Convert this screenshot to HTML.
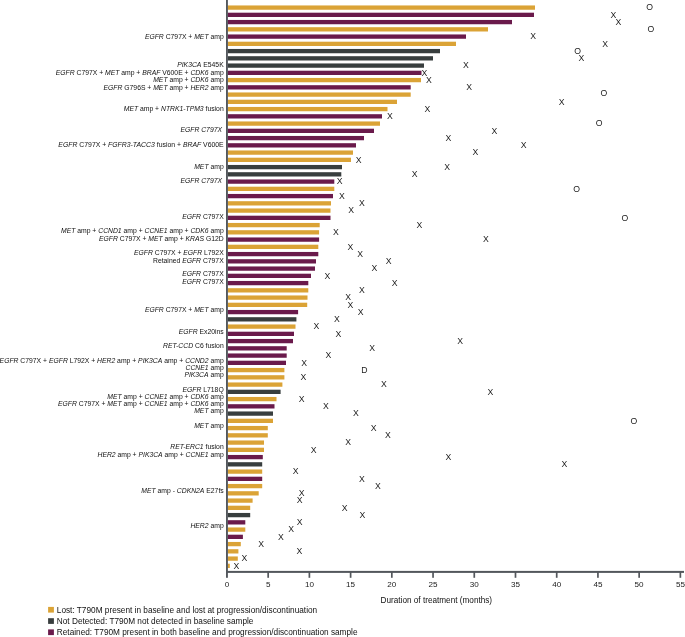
<!DOCTYPE html><html><head><meta charset="utf-8"><style>
html,body{margin:0;padding:0;background:#fff;width:685px;height:637px;overflow:hidden}
svg{display:block;will-change:transform}
text{font-family:"Liberation Sans",sans-serif}
</style></head><body>
<svg width="685" height="637" viewBox="0 0 685 637">
<rect x="227.6" y="5.45" width="307.4" height="4.3" fill="#DBA336"/>
<rect x="227.6" y="12.70" width="306.4" height="4.3" fill="#6A1A4B"/>
<rect x="227.6" y="19.95" width="284.4" height="4.3" fill="#6A1A4B"/>
<rect x="227.6" y="27.20" width="260.4" height="4.3" fill="#DBA336"/>
<rect x="227.6" y="34.45" width="238.4" height="4.3" fill="#6A1A4B"/>
<rect x="227.6" y="41.70" width="228.4" height="4.3" fill="#DBA336"/>
<rect x="227.6" y="48.95" width="212.4" height="4.3" fill="#383E3E"/>
<rect x="227.6" y="56.20" width="205.4" height="4.3" fill="#383E3E"/>
<rect x="227.6" y="63.45" width="196.4" height="4.3" fill="#383E3E"/>
<rect x="227.6" y="70.70" width="193.9" height="4.3" fill="#6A1A4B"/>
<rect x="227.6" y="77.95" width="193.4" height="4.3" fill="#DBA336"/>
<rect x="227.6" y="85.20" width="183.1" height="4.3" fill="#6A1A4B"/>
<rect x="227.6" y="92.45" width="183.1" height="4.3" fill="#DBA336"/>
<rect x="227.6" y="99.70" width="169.4" height="4.3" fill="#DBA336"/>
<rect x="227.6" y="106.95" width="159.9" height="4.3" fill="#DBA336"/>
<rect x="227.6" y="114.20" width="154.4" height="4.3" fill="#6A1A4B"/>
<rect x="227.6" y="121.45" width="152.4" height="4.3" fill="#DBA336"/>
<rect x="227.6" y="128.70" width="146.4" height="4.3" fill="#6A1A4B"/>
<rect x="227.6" y="135.95" width="136.4" height="4.3" fill="#6A1A4B"/>
<rect x="227.6" y="143.20" width="128.4" height="4.3" fill="#6A1A4B"/>
<rect x="227.6" y="150.45" width="125.4" height="4.3" fill="#DBA336"/>
<rect x="227.6" y="157.70" width="123.4" height="4.3" fill="#DBA336"/>
<rect x="227.6" y="164.95" width="114.4" height="4.3" fill="#383E3E"/>
<rect x="227.6" y="172.20" width="113.7" height="4.3" fill="#383E3E"/>
<rect x="227.6" y="179.45" width="106.7" height="4.3" fill="#6A1A4B"/>
<rect x="227.6" y="186.70" width="106.7" height="4.3" fill="#DBA336"/>
<rect x="227.6" y="193.95" width="105.4" height="4.3" fill="#6A1A4B"/>
<rect x="227.6" y="201.20" width="103.4" height="4.3" fill="#DBA336"/>
<rect x="227.6" y="208.45" width="102.9" height="4.3" fill="#DBA336"/>
<rect x="227.6" y="215.70" width="102.9" height="4.3" fill="#6A1A4B"/>
<rect x="227.6" y="222.95" width="92.1" height="4.3" fill="#DBA336"/>
<rect x="227.6" y="230.20" width="91.5" height="4.3" fill="#DBA336"/>
<rect x="227.6" y="237.45" width="91.5" height="4.3" fill="#6A1A4B"/>
<rect x="227.6" y="244.70" width="90.7" height="4.3" fill="#DBA336"/>
<rect x="227.6" y="251.95" width="90.7" height="4.3" fill="#6A1A4B"/>
<rect x="227.6" y="259.20" width="88.4" height="4.3" fill="#6A1A4B"/>
<rect x="227.6" y="266.45" width="87.4" height="4.3" fill="#6A1A4B"/>
<rect x="227.6" y="273.70" width="83.4" height="4.3" fill="#6A1A4B"/>
<rect x="227.6" y="280.95" width="80.7" height="4.3" fill="#6A1A4B"/>
<rect x="227.6" y="288.20" width="80.7" height="4.3" fill="#DBA336"/>
<rect x="227.6" y="295.45" width="79.9" height="4.3" fill="#DBA336"/>
<rect x="227.6" y="302.70" width="79.6" height="4.3" fill="#DBA336"/>
<rect x="227.6" y="309.95" width="70.5" height="4.3" fill="#6A1A4B"/>
<rect x="227.6" y="317.20" width="68.8" height="4.3" fill="#383E3E"/>
<rect x="227.6" y="324.45" width="67.9" height="4.3" fill="#DBA336"/>
<rect x="227.6" y="331.70" width="66.4" height="4.3" fill="#6A1A4B"/>
<rect x="227.6" y="338.95" width="65.4" height="4.3" fill="#6A1A4B"/>
<rect x="227.6" y="346.20" width="59.1" height="4.3" fill="#6A1A4B"/>
<rect x="227.6" y="353.45" width="59.1" height="4.3" fill="#6A1A4B"/>
<rect x="227.6" y="360.70" width="58.4" height="4.3" fill="#6A1A4B"/>
<rect x="227.6" y="367.95" width="56.8" height="4.3" fill="#DBA336"/>
<rect x="227.6" y="375.20" width="56.8" height="4.3" fill="#DBA336"/>
<rect x="227.6" y="382.45" width="54.8" height="4.3" fill="#DBA336"/>
<rect x="227.6" y="389.70" width="53.0" height="4.3" fill="#383E3E"/>
<rect x="227.6" y="396.95" width="48.9" height="4.3" fill="#DBA336"/>
<rect x="227.6" y="404.20" width="46.9" height="4.3" fill="#6A1A4B"/>
<rect x="227.6" y="411.45" width="45.4" height="4.3" fill="#383E3E"/>
<rect x="227.6" y="418.70" width="45.4" height="4.3" fill="#DBA336"/>
<rect x="227.6" y="425.95" width="40.2" height="4.3" fill="#DBA336"/>
<rect x="227.6" y="433.20" width="40.2" height="4.3" fill="#DBA336"/>
<rect x="227.6" y="440.45" width="36.4" height="4.3" fill="#DBA336"/>
<rect x="227.6" y="447.70" width="36.4" height="4.3" fill="#DBA336"/>
<rect x="227.6" y="454.95" width="35.2" height="4.3" fill="#6A1A4B"/>
<rect x="227.6" y="462.20" width="34.6" height="4.3" fill="#383E3E"/>
<rect x="227.6" y="469.45" width="34.6" height="4.3" fill="#DBA336"/>
<rect x="227.6" y="476.70" width="34.6" height="4.3" fill="#6A1A4B"/>
<rect x="227.6" y="483.95" width="34.6" height="4.3" fill="#DBA336"/>
<rect x="227.6" y="491.20" width="31.1" height="4.3" fill="#DBA336"/>
<rect x="227.6" y="498.45" width="25.0" height="4.3" fill="#DBA336"/>
<rect x="227.6" y="505.70" width="22.6" height="4.3" fill="#DBA336"/>
<rect x="227.6" y="512.95" width="22.6" height="4.3" fill="#383E3E"/>
<rect x="227.6" y="520.20" width="17.7" height="4.3" fill="#6A1A4B"/>
<rect x="227.6" y="527.45" width="17.7" height="4.3" fill="#DBA336"/>
<rect x="227.6" y="534.70" width="15.3" height="4.3" fill="#6A1A4B"/>
<rect x="227.6" y="541.95" width="13.2" height="4.3" fill="#DBA336"/>
<rect x="227.6" y="549.20" width="10.8" height="4.3" fill="#DBA336"/>
<rect x="227.6" y="556.45" width="10.2" height="4.3" fill="#DBA336"/>
<rect x="227.6" y="563.70" width="2.2" height="4.3" fill="#DBA336"/>
<g font-size="8.7" fill="#222" text-anchor="middle">
<text x="649.7" y="10.45">O</text>
<text x="613.3" y="17.70">X</text>
<text x="618.4" y="24.95">X</text>
<text x="650.8" y="32.20">O</text>
<text x="533.1" y="39.45">X</text>
<text x="605.2" y="46.70">X</text>
<text x="577.6" y="53.95">O</text>
<text x="581.4" y="61.20">X</text>
<text x="466.0" y="68.45">X</text>
<text x="424.3" y="75.70">X</text>
<text x="428.9" y="82.95">X</text>
<text x="469.1" y="90.20">X</text>
<text x="603.8" y="95.60">O</text>
<text x="561.6" y="104.70">X</text>
<text x="427.4" y="111.95">X</text>
<text x="389.9" y="119.20">X</text>
<text x="599.1" y="126.45">O</text>
<text x="494.3" y="133.70">X</text>
<text x="448.3" y="140.95">X</text>
<text x="523.7" y="148.20">X</text>
<text x="475.3" y="155.45">X</text>
<text x="358.7" y="162.70">X</text>
<text x="447.1" y="169.95">X</text>
<text x="414.7" y="177.20">X</text>
<text x="339.7" y="184.45">X</text>
<text x="576.7" y="191.70">O</text>
<text x="342.0" y="198.95">X</text>
<text x="361.9" y="206.20">X</text>
<text x="351.1" y="213.45">X</text>
<text x="625.0" y="220.70">O</text>
<text x="419.4" y="227.95">X</text>
<text x="335.9" y="235.20">X</text>
<text x="485.8" y="242.45">X</text>
<text x="350.5" y="249.70">X</text>
<text x="360.1" y="256.95">X</text>
<text x="388.7" y="264.20">X</text>
<text x="374.4" y="271.45">X</text>
<text x="327.4" y="278.70">X</text>
<text x="394.6" y="285.95">X</text>
<text x="361.9" y="293.20">X</text>
<text x="348.2" y="300.45">X</text>
<text x="350.5" y="307.70">X</text>
<text x="360.7" y="314.95">X</text>
<text x="336.8" y="322.20">X</text>
<text x="316.3" y="329.45">X</text>
<text x="338.5" y="336.70">X</text>
<text x="460.2" y="343.95">X</text>
<text x="372.1" y="351.20">X</text>
<text x="328.3" y="358.45">X</text>
<text x="304.1" y="365.70">X</text>
<text x="364.5" y="372.95">D</text>
<text x="303.5" y="380.20">X</text>
<text x="383.8" y="387.45">X</text>
<text x="490.4" y="394.70">X</text>
<text x="301.7" y="401.95">X</text>
<text x="326.0" y="409.20">X</text>
<text x="356.0" y="416.45">X</text>
<text x="633.9" y="423.70">O</text>
<text x="373.6" y="430.95">X</text>
<text x="387.9" y="438.20">X</text>
<text x="348.2" y="445.45">X</text>
<text x="313.7" y="452.70">X</text>
<text x="448.3" y="459.95">X</text>
<text x="564.3" y="467.20">X</text>
<text x="295.6" y="474.45">X</text>
<text x="361.9" y="481.70">X</text>
<text x="377.9" y="488.95">X</text>
<text x="301.7" y="496.20">X</text>
<text x="299.7" y="503.45">X</text>
<text x="344.6" y="510.70">X</text>
<text x="362.4" y="517.95">X</text>
<text x="299.7" y="525.20">X</text>
<text x="291.2" y="532.45">X</text>
<text x="281.0" y="539.70">X</text>
<text x="261.2" y="546.95">X</text>
<text x="299.5" y="554.20">X</text>
<text x="244.4" y="561.45">X</text>
<text x="236.3" y="568.70">X</text>
</g>
<rect x="226" y="0" width="1.9" height="577.8" fill="#53575c"/>
<rect x="226" y="570.9" width="458" height="2.0" fill="#53575c"/>
<rect x="267.32" y="572" width="1.7" height="5.8" fill="#53575c"/>
<rect x="308.54" y="572" width="1.7" height="5.8" fill="#53575c"/>
<rect x="349.76" y="572" width="1.7" height="5.8" fill="#53575c"/>
<rect x="390.98" y="572" width="1.7" height="5.8" fill="#53575c"/>
<rect x="432.20" y="572" width="1.7" height="5.8" fill="#53575c"/>
<rect x="473.42" y="572" width="1.7" height="5.8" fill="#53575c"/>
<rect x="514.64" y="572" width="1.7" height="5.8" fill="#53575c"/>
<rect x="555.86" y="572" width="1.7" height="5.8" fill="#53575c"/>
<rect x="597.08" y="572" width="1.7" height="5.8" fill="#53575c"/>
<rect x="638.30" y="572" width="1.7" height="5.8" fill="#53575c"/>
<rect x="679.52" y="572" width="1.7" height="5.8" fill="#53575c"/>
<g font-size="8.1" fill="#222" text-anchor="middle">
<text x="226.9" y="586.7">0</text>
<text x="268.2" y="586.7">5</text>
<text x="309.4" y="586.7">10</text>
<text x="350.6" y="586.7">15</text>
<text x="391.8" y="586.7">20</text>
<text x="433.0" y="586.7">25</text>
<text x="474.3" y="586.7">30</text>
<text x="515.5" y="586.7">35</text>
<text x="556.7" y="586.7">40</text>
<text x="597.9" y="586.7">45</text>
<text x="639.1" y="586.7">50</text>
<text x="680.4" y="586.7">55</text>
</g>
<text x="380.6" y="602.6" font-size="8.2" fill="#111">Duration of treatment (months)</text>
<g font-size="6.8" fill="#111" text-anchor="end">
<text x="223.7" y="38.90"><tspan font-style="italic">EGFR</tspan> C797X + <tspan font-style="italic">MET</tspan> amp</text>
<text x="223.7" y="67.05"><tspan font-style="italic">PIK3CA</tspan> E545K</text>
<text x="223.7" y="74.90"><tspan font-style="italic">EGFR</tspan> C797X + <tspan font-style="italic">MET</tspan> amp + <tspan font-style="italic">BRAF</tspan> V600E + <tspan font-style="italic">CDK6</tspan> amp</text>
<text x="223.7" y="82.20"><tspan font-style="italic">MET</tspan> amp + <tspan font-style="italic">CDK6</tspan> amp</text>
<text x="223.7" y="89.50"><tspan font-style="italic">EGFR</tspan> G796S + <tspan font-style="italic">MET</tspan> amp + <tspan font-style="italic">HER2</tspan> amp</text>
<text x="223.7" y="111.20"><tspan font-style="italic">MET</tspan> amp + <tspan font-style="italic">NTRK1-TPM3</tspan> fusion</text>
<text x="222.0" y="132.30"><tspan font-style="italic">EGFR C797X</tspan></text>
<text x="223.7" y="146.70" font-size="6.87"><tspan font-style="italic">EGFR</tspan> C797X + <tspan font-style="italic">FGFR3-TACC3</tspan> fusion + <tspan font-style="italic">BRAF</tspan> V600E</text>
<text x="223.7" y="168.60"><tspan font-style="italic">MET</tspan> amp</text>
<text x="222.0" y="183.20"><tspan font-style="italic">EGFR C797X</tspan></text>
<text x="223.7" y="219.05"><tspan font-style="italic">EGFR</tspan> C797X</text>
<text x="223.7" y="233.30"><tspan font-style="italic">MET</tspan> amp + <tspan font-style="italic">CCND1</tspan> amp + <tspan font-style="italic">CCNE1</tspan> amp + <tspan font-style="italic">CDK6</tspan> amp</text>
<text x="223.7" y="240.50"><tspan font-style="italic">EGFR</tspan> C797X + <tspan font-style="italic">MET</tspan> amp + <tspan font-style="italic">KRAS</tspan> G12D</text>
<text x="223.7" y="254.90"><tspan font-style="italic">EGFR</tspan> C797X + <tspan font-style="italic">EGFR</tspan> L792X</text>
<text x="223.7" y="262.80">Retained <tspan font-style="italic">EGFR</tspan> C797X</text>
<text x="223.7" y="276.10"><tspan font-style="italic">EGFR</tspan> C797X</text>
<text x="223.7" y="283.60"><tspan font-style="italic">EGFR</tspan> C797X</text>
<text x="223.7" y="312.10"><tspan font-style="italic">EGFR</tspan> C797X + <tspan font-style="italic">MET</tspan> amp</text>
<text x="223.7" y="334.00"><tspan font-style="italic">EGFR</tspan> Ex20ins</text>
<text x="223.7" y="348.30"><tspan font-style="italic">RET-CCD</tspan> C6 fusion</text>
<text x="223.7" y="362.60"><tspan font-style="italic">EGFR</tspan> C797X + <tspan font-style="italic">EGFR</tspan> L792X + <tspan font-style="italic">HER2</tspan> amp + <tspan font-style="italic">PIK3CA</tspan> amp + <tspan font-style="italic">CCND2</tspan> amp</text>
<text x="223.7" y="369.70"><tspan font-style="italic">CCNE1</tspan> amp</text>
<text x="223.7" y="376.90"><tspan font-style="italic">PIK3CA</tspan> amp</text>
<text x="223.7" y="391.70"><tspan font-style="italic">EGFR</tspan> L718Q</text>
<text x="223.7" y="399.00"><tspan font-style="italic">MET</tspan> amp + <tspan font-style="italic">CCNE1</tspan> amp + <tspan font-style="italic">CDK6</tspan> amp</text>
<text x="223.7" y="406.10"><tspan font-style="italic">EGFR</tspan> C797X + <tspan font-style="italic">MET</tspan> amp + <tspan font-style="italic">CCNE1</tspan> amp + <tspan font-style="italic">CDK6</tspan> amp</text>
<text x="223.7" y="412.90"><tspan font-style="italic">MET</tspan> amp</text>
<text x="223.7" y="427.60"><tspan font-style="italic">MET</tspan> amp</text>
<text x="223.7" y="449.30"><tspan font-style="italic">RET-ERC1</tspan> fusion</text>
<text x="223.7" y="456.50"><tspan font-style="italic">HER2</tspan> amp + <tspan font-style="italic">PIK3CA</tspan> amp + <tspan font-style="italic">CCNE1</tspan> amp</text>
<text x="223.7" y="492.50"><tspan font-style="italic">MET</tspan> amp - <tspan font-style="italic">CDKN2A</tspan> E27fs</text>
<text x="223.7" y="528.10"><tspan font-style="italic">HER2</tspan> amp</text>
</g>
<rect x="48.1" y="606.9" width="5.8" height="5.7" fill="#DBA336"/>
<text x="56.8" y="612.6" font-size="8.25" fill="#111">Lost: T790M present in baseline and lost at progression/discontinuation</text>
<rect x="48.1" y="618.2" width="5.8" height="5.7" fill="#383E3E"/>
<text x="56.8" y="623.9" font-size="8.25" fill="#111">Not Detected: T790M not detected in baseline sample</text>
<rect x="48.1" y="629.4" width="5.8" height="5.7" fill="#6A1A4B"/>
<text x="56.8" y="635.1" font-size="8.25" fill="#111">Retained: T790M present in both baseline and progression/discontinuation sample</text>
</svg></body></html>
